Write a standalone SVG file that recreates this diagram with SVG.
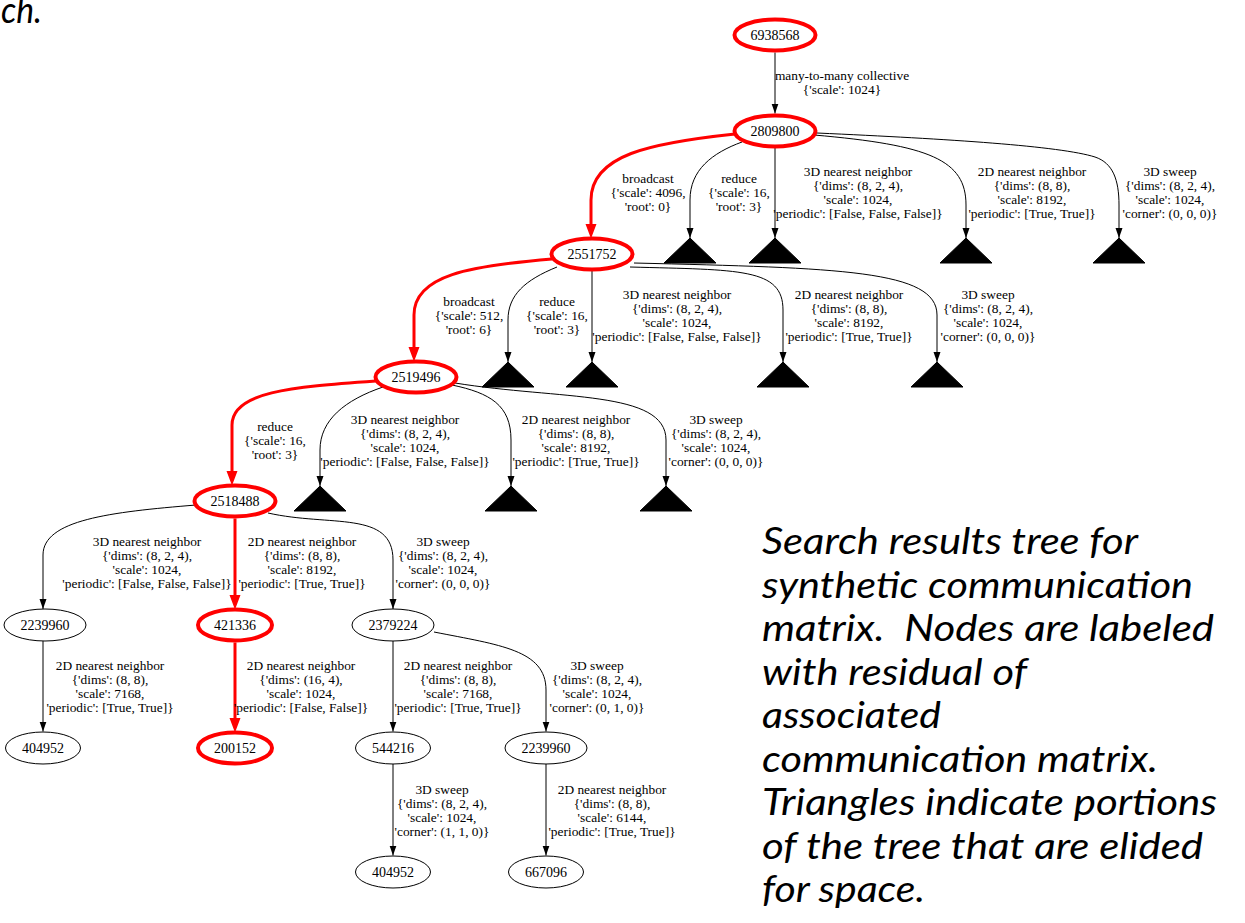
<svg xmlns="http://www.w3.org/2000/svg" width="1245" height="923" viewBox="0 0 1245 923">
<style>
.node ellipse{fill:none;stroke:#000;stroke-width:1}
.node.hl ellipse{stroke:#ff0000;stroke-width:4}
.node text{font-family:"Liberation Serif","Times New Roman",serif;font-size:14px;text-anchor:middle;fill:#000}
.tri polygon{fill:#000;stroke:#000;stroke-width:1}
.edge path{fill:none;stroke:#000;stroke-width:1;marker-end:url(#ah)}
.edge.hl path{stroke:#ff0000;stroke-width:3;marker-end:url(#ahr)}
.lbl{font-family:"Liberation Serif","Times New Roman",serif;font-size:13.4px;text-anchor:middle;fill:#000}
.cap{font-family:Lato,"Open Sans",sans-serif;font-style:italic;font-size:37px;fill:#000;white-space:pre}
</style>
<defs>
<marker id="ah" markerUnits="userSpaceOnUse" markerWidth="10" markerHeight="8" refX="10" refY="4" orient="auto" viewBox="0 0 10 8"><path d="M0,0.5 L10,4 L0,7.5 z" fill="#000"/></marker>
<marker id="ahr" markerUnits="userSpaceOnUse" markerWidth="14" markerHeight="12" refX="5" refY="6" orient="auto" viewBox="0 0 14 12"><path d="M1,1.5 L13,6 L1,10.5 z" fill="#ff0000" stroke="#ff0000" stroke-width="1.5"/></marker>
</defs>
<rect width="1245" height="923" fill="#fff"/>
<text class="cap" x="1" y="23" textLength="41" lengthAdjust="spacingAndGlyphs">ch.</text>

<g id="connectors">
<g id="e0" class="edge"><path d="M775,52.5 L775,113.5"/><text class="lbl" y="80"><tspan x="842">many-to-many collective</tspan><tspan x="842" dy="14">{'scale': 1024}</tspan></text></g>
<g id="e1" class="edge hl"><path d="M735,134 C650,143 591,155 591,200 L591,228.5"/><text class="lbl" y="183"><tspan x="648">broadcast</tspan><tspan x="648" dy="14">{'scale': 4096,</tspan><tspan x="648" dy="14">'root': 0}</tspan></text></g>
<g id="e2" class="edge"><path d="M742,142 C712,153 690,170 690,200 L690,238"/><text class="lbl" y="183"><tspan x="739">reduce</tspan><tspan x="739" dy="14">{'scale': 16,</tspan><tspan x="739" dy="14">'root': 3}</tspan></text></g>
<g id="e3" class="edge"><path d="M775,146.5 L775,238"/><text class="lbl" y="176"><tspan x="858">3D nearest neighbor</tspan><tspan x="858" dy="14">{'dims': (8, 2, 4),</tspan><tspan x="858" dy="14">'scale': 1024,</tspan><tspan x="858" dy="14">'periodic': [False, False, False]}</tspan></text></g>
<g id="e4" class="edge"><path d="M814,135 C930,145 966,160 966,205 L966,238"/><text class="lbl" y="176"><tspan x="1032">2D nearest neighbor</tspan><tspan x="1032" dy="14">{'dims': (8, 8),</tspan><tspan x="1032" dy="14">'scale': 8192,</tspan><tspan x="1032" dy="14">'periodic': [True, True]}</tspan></text></g>
<g id="e5" class="edge"><path d="M817,133 C950,139 1060,146 1095,157 C1113,163 1119,180 1119,205 L1119,238"/><text class="lbl" y="176"><tspan x="1170">3D sweep</tspan><tspan x="1170" dy="14">{'dims': (8, 2, 4),</tspan><tspan x="1170" dy="14">'scale': 1024,</tspan><tspan x="1170" dy="14">'corner': (0, 0, 0)}</tspan></text></g>

<g id="e6" class="edge hl"><path d="M552,259 C470,266 414,275 414,315 L414,351.5"/><text class="lbl" y="306"><tspan x="469">broadcast</tspan><tspan x="469" dy="14">{'scale': 512,</tspan><tspan x="469" dy="14">'root': 6}</tspan></text></g>
<g id="e7" class="edge"><path d="M557,267 C525,280 508,295 508,320 L508,362"/><text class="lbl" y="306"><tspan x="557">reduce</tspan><tspan x="557" dy="14">{'scale': 16,</tspan><tspan x="557" dy="14">'root': 3}</tspan></text></g>
<g id="e8" class="edge"><path d="M592,269.5 L592,362"/><text class="lbl" y="299"><tspan x="677">3D nearest neighbor</tspan><tspan x="677" dy="14">{'dims': (8, 2, 4),</tspan><tspan x="677" dy="14">'scale': 1024,</tspan><tspan x="677" dy="14">'periodic': [False, False, False]}</tspan></text></g>
<g id="e9" class="edge"><path d="M630,267 C740,270 783,268 783,310 L783,362"/><text class="lbl" y="299"><tspan x="849">2D nearest neighbor</tspan><tspan x="849" dy="14">{'dims': (8, 8),</tspan><tspan x="849" dy="14">'scale': 8192,</tspan><tspan x="849" dy="14">'periodic': [True, True]}</tspan></text></g>
<g id="e10" class="edge"><path d="M634,263 C840,268 937,270 937,315 L937,362"/><text class="lbl" y="299"><tspan x="988">3D sweep</tspan><tspan x="988" dy="14">{'dims': (8, 2, 4),</tspan><tspan x="988" dy="14">'scale': 1024,</tspan><tspan x="988" dy="14">'corner': (0, 0, 0)}</tspan></text></g>

<g id="e11" class="edge hl"><path d="M376,381 C290,387 232,392 232,425 L232,475.5"/><text class="lbl" y="431"><tspan x="275">reduce</tspan><tspan x="275" dy="14">{'scale': 16,</tspan><tspan x="275" dy="14">'root': 3}</tspan></text></g>
<g id="e12" class="edge"><path d="M383,387 C345,400 320,420 320,450 L320,486"/><text class="lbl" y="424"><tspan x="405">3D nearest neighbor</tspan><tspan x="405" dy="14">{'dims': (8, 2, 4),</tspan><tspan x="405" dy="14">'scale': 1024,</tspan><tspan x="405" dy="14">'periodic': [False, False, False]}</tspan></text></g>
<g id="e13" class="edge"><path d="M452,385 C490,393 511,405 511,440 L511,486"/><text class="lbl" y="424"><tspan x="576">2D nearest neighbor</tspan><tspan x="576" dy="14">{'dims': (8, 8),</tspan><tspan x="576" dy="14">'scale': 8192,</tspan><tspan x="576" dy="14">'periodic': [True, True]}</tspan></text></g>
<g id="e14" class="edge"><path d="M455,383 C560,400 666,390 666,440 L666,486"/><text class="lbl" y="424"><tspan x="716">3D sweep</tspan><tspan x="716" dy="14">{'dims': (8, 2, 4),</tspan><tspan x="716" dy="14">'scale': 1024,</tspan><tspan x="716" dy="14">'corner': (0, 0, 0)}</tspan></text></g>

<g id="e15" class="edge"><path d="M196,505 C110,512 43,520 43,555 L43,609"/><text class="lbl" y="546"><tspan x="147">3D nearest neighbor</tspan><tspan x="147" dy="14">{'dims': (8, 2, 4),</tspan><tspan x="147" dy="14">'scale': 1024,</tspan><tspan x="147" dy="14">'periodic': [False, False, False]}</tspan></text></g>
<g id="e16" class="edge hl"><path d="M235,518.5 L235,599.5"/><text class="lbl" y="546"><tspan x="302">2D nearest neighbor</tspan><tspan x="302" dy="14">{'dims': (8, 8),</tspan><tspan x="302" dy="14">'scale': 8192,</tspan><tspan x="302" dy="14">'periodic': [True, True]}</tspan></text></g>
<g id="e17" class="edge"><path d="M268,513 C330,527 393,510 393,560 L393,609"/><text class="lbl" y="546"><tspan x="443">3D sweep</tspan><tspan x="443" dy="14">{'dims': (8, 2, 4),</tspan><tspan x="443" dy="14">'scale': 1024,</tspan><tspan x="443" dy="14">'corner': (0, 0, 0)}</tspan></text></g>

<g id="e18" class="edge"><path d="M43,641 L43,731.5"/><text class="lbl" y="670"><tspan x="110">2D nearest neighbor</tspan><tspan x="110" dy="14">{'dims': (8, 8),</tspan><tspan x="110" dy="14">'scale': 7168,</tspan><tspan x="110" dy="14">'periodic': [True, True]}</tspan></text></g>
<g id="e19" class="edge hl"><path d="M235,642.5 L235,722.5"/><text class="lbl" y="670"><tspan x="301">2D nearest neighbor</tspan><tspan x="301" dy="14">{'dims': (16, 4),</tspan><tspan x="301" dy="14">'scale': 1024,</tspan><tspan x="301" dy="14">'periodic': [False, False]}</tspan></text></g>
<g id="e20" class="edge"><path d="M393,641 L393,731.5"/><text class="lbl" y="670"><tspan x="458">2D nearest neighbor</tspan><tspan x="458" dy="14">{'dims': (8, 8),</tspan><tspan x="458" dy="14">'scale': 7168,</tspan><tspan x="458" dy="14">'periodic': [True, True]}</tspan></text></g>
<g id="e21" class="edge"><path d="M434,632 C500,645 546,650 546,690 L546,731.5"/><text class="lbl" y="670"><tspan x="597">3D sweep</tspan><tspan x="597" dy="14">{'dims': (8, 2, 4),</tspan><tspan x="597" dy="14">'scale': 1024,</tspan><tspan x="597" dy="14">'corner': (0, 1, 0)}</tspan></text></g>

<g id="e22" class="edge"><path d="M393,764 L393,855.5"/><text class="lbl" y="794"><tspan x="442">3D sweep</tspan><tspan x="442" dy="14">{'dims': (8, 2, 4),</tspan><tspan x="442" dy="14">'scale': 1024,</tspan><tspan x="442" dy="14">'corner': (1, 1, 0)}</tspan></text></g>
<g id="e23" class="edge"><path d="M546,764 L546,855.5"/><text class="lbl" y="794"><tspan x="612">2D nearest neighbor</tspan><tspan x="612" dy="14">{'dims': (8, 8),</tspan><tspan x="612" dy="14">'scale': 6144,</tspan><tspan x="612" dy="14">'periodic': [True, True]}</tspan></text></g>
</g>

<g id="n6938568" class="node hl"><ellipse cx="775" cy="35" rx="40.5" ry="15.5"/><text x="775" y="40">6938568</text></g>
<g id="n2809800" class="node hl"><ellipse cx="775" cy="131" rx="40.5" ry="15.5"/><text x="775" y="136">2809800</text></g>
<g id="n2551752" class="node hl"><ellipse cx="592" cy="254" rx="40.5" ry="15.5"/><text x="592" y="259">2551752</text></g>
<g id="n2519496" class="node hl"><ellipse cx="416" cy="377" rx="40.5" ry="15.5"/><text x="416" y="382">2519496</text></g>
<g id="n2518488" class="node hl"><ellipse cx="235" cy="501" rx="40.5" ry="15.5"/><text x="235" y="506">2518488</text></g>
<g id="n2239960a" class="node"><ellipse cx="45" cy="625" rx="41" ry="16"/><text x="45" y="630">2239960</text></g>
<g id="n421336" class="node hl"><ellipse cx="235" cy="625" rx="37" ry="15.5"/><text x="235" y="630">421336</text></g>
<g id="n2379224" class="node"><ellipse cx="393" cy="625" rx="41" ry="16"/><text x="393" y="630">2379224</text></g>
<g id="n404952a" class="node"><ellipse cx="43" cy="748" rx="37.5" ry="16"/><text x="43" y="753">404952</text></g>
<g id="n200152" class="node hl"><ellipse cx="235" cy="748" rx="37" ry="15.5"/><text x="235" y="753">200152</text></g>
<g id="n544216" class="node"><ellipse cx="393" cy="748" rx="37.5" ry="16"/><text x="393" y="753">544216</text></g>
<g id="n2239960b" class="node"><ellipse cx="546" cy="748" rx="41" ry="16"/><text x="546" y="753">2239960</text></g>
<g id="n404952b" class="node"><ellipse cx="393" cy="872" rx="37.5" ry="16"/><text x="393" y="877">404952</text></g>
<g id="n667096" class="node"><ellipse cx="546" cy="872" rx="37.5" ry="16"/><text x="546" y="877">667096</text></g>

<g id="t1a" class="tri"><polygon points="690,238 716,263 664,263"/></g>
<g id="t1b" class="tri"><polygon points="775,238 801,263 749,263"/></g>
<g id="t1c" class="tri"><polygon points="966,238 992,263 940,263"/></g>
<g id="t1d" class="tri"><polygon points="1119,238 1145,263 1093,263"/></g>
<g id="t2a" class="tri"><polygon points="508,362 534,387 482,387"/></g>
<g id="t2b" class="tri"><polygon points="592,362 618,387 566,387"/></g>
<g id="t2c" class="tri"><polygon points="783,362 809,387 757,387"/></g>
<g id="t2d" class="tri"><polygon points="937,362 963,387 911,387"/></g>
<g id="t3a" class="tri"><polygon points="320,486 346,511 294,511"/></g>
<g id="t3b" class="tri"><polygon points="511,486 537,511 485,511"/></g>
<g id="t3c" class="tri"><polygon points="666,486 692,511 640,511"/></g>

<g id="caption">
<text class="cap" x="762" y="554" textLength="376" lengthAdjust="spacingAndGlyphs">Search results tree for</text>
<text class="cap" x="762" y="597.5" textLength="431" lengthAdjust="spacingAndGlyphs">synthetic communication</text>
<text class="cap" x="762" y="641" textLength="452" lengthAdjust="spacingAndGlyphs">matrix.  Nodes are labeled</text>
<text class="cap" x="762" y="684.5" textLength="265" lengthAdjust="spacingAndGlyphs">with residual of</text>
<text class="cap" x="762" y="728" textLength="179" lengthAdjust="spacingAndGlyphs">associated</text>
<text class="cap" x="762" y="771.5" textLength="396" lengthAdjust="spacingAndGlyphs">communication matrix.</text>
<text class="cap" x="762" y="815" textLength="455" lengthAdjust="spacingAndGlyphs">Triangles indicate portions</text>
<text class="cap" x="762" y="858.5" textLength="441" lengthAdjust="spacingAndGlyphs">of the tree that are elided</text>
<text class="cap" x="762" y="902" textLength="163" lengthAdjust="spacingAndGlyphs">for space.</text>
</g>
</svg>
